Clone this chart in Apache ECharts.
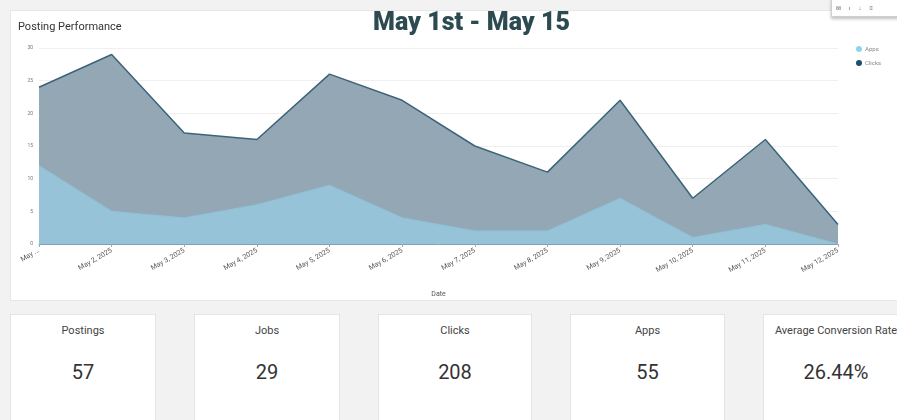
<!DOCTYPE html>
<html>
<head>
<meta charset="utf-8">
<script src="https://cdn.jsdelivr.net/npm/echarts@6/dist/echarts.min.js"></script>
<style>
  html, body { margin: 0; padding: 0; }
  body { width: 897px; height: 420px; background: #f2f2f2; overflow: hidden; position: relative; font-family: Roboto, "Noto Sans", sans-serif; }
  .panel { position: absolute; left: 10px; top: 10px; width: 895px; height: 291px; background: #fff; border: 1px solid #e6e6e6; box-sizing: border-box; }
  #chart { position: absolute; left: 0; top: 0; width: 897px; height: 310px; }
  .tools { position: absolute; left: 831px; top: -2px; width: 80px; height: 19px; background: #fff; border: 1px solid #cfcfcf; box-shadow: 0 2px 3px rgba(0,0,0,0.25); font-size: 6px; color: #666; letter-spacing: 8px; padding-left: 4px; line-height: 17px; box-sizing: border-box; }
  .kpi { position: absolute; top: 314px; height: 130px; background: #fff; border: 1px solid #e4e4e4; box-sizing: border-box; text-align: center; color: #333; }
  .kpi .t { margin-top: 9px; font-size: 11px; color: #444; white-space: nowrap; }
  .kpi .v { margin-top: 23px; font-size: 20px; color: #333; }
</style>
</head>
<body>
<div class="panel"></div>
<div id="chart"></div>
<div class="tools">⊠ı↓≡</div>
<div id="kpis"></div>
<script>
// chart data
const dates = ['May 1, 2025', 'May 2, 2025', 'May 3, 2025', 'May 4, 2025', 'May 5, 2025', 'May 6, 2025',
  'May 7, 2025', 'May 8, 2025', 'May 9, 2025', 'May 10, 2025', 'May 11, 2025', 'May 12, 2025'];
const clicks = [24, 29, 17, 16, 26, 22, 15, 11, 22, 7, 16, 3];
const apps = [12, 5, 4, 6, 9, 4, 2, 2, 7, 1, 3, 0];

// summary tiles
const kpiNames = ['Postings', 'Jobs', 'Clicks', 'Apps', 'Average Conversion Rate'];
const kpiValues = ['57', '29', '208', '55', '26.44%'];
const kpiLeft = [10, 194, 378, 570, 763];
const kpiWidth = [146, 146, 154, 155, 146];

const kpiBox = document.getElementById('kpis');
kpiNames.forEach((name, i) => {
  const d = document.createElement('div');
  d.className = 'kpi';
  d.style.left = kpiLeft[i] + 'px';
  d.style.width = kpiWidth[i] + 'px';
  d.innerHTML = '<div class="t">' + name + '</div><div class="v">' + kpiValues[i] + '</div>';
  kpiBox.appendChild(d);
});

const chart = echarts.init(document.getElementById('chart'));

const option = {
  animation: false,
  textStyle: { fontFamily: 'Roboto' },
  title: [
    {
      text: 'Posting Performance',
      left: 13, top: 17,
      textStyle: { fontSize: 11, fontWeight: 'normal', color: '#333' }
    },
    {
      text: 'May 1st - May 15',
      left: 368, top: 6,
      textStyle: { fontSize: 25, fontWeight: 900, color: '#2d4a51', fontFamily: 'Roboto' }
    }
  ],
  legend: {
    data: ['Apps', 'Clicks'],
    orient: 'vertical',
    left: 851, top: 41,
    icon: 'circle',
    itemWidth: 6, itemHeight: 6, itemGap: 8,
    textStyle: { fontSize: 6, color: '#888', padding: [0, 0, 0, -2] }
  },
  grid: { left: 39, right: 59, top: 48, bottom: 66 },
  xAxis: {
    type: 'category',
    data: dates,
    boundaryGap: false,
    name: 'Date',
    nameLocation: 'middle',
    nameGap: 47,
    nameTextStyle: { fontSize: 7, color: '#555' },
    axisLine: { lineStyle: { color: '#7fa3b4', width: 1 } },
    axisTick: { show: true, length: 3, lineStyle: { color: '#9ab' } },
    axisLabel: {
      rotate: 30, fontSize: 7, color: '#555', margin: 6,
      formatter: (v, i) => i === 0 ? 'May ...' : v
    }
  },
  yAxis: {
    type: 'value',
    min: 0, max: 30, interval: 5,
    axisLine: { show: false },
    axisTick: { show: false },
    axisLabel: { fontSize: 5, color: '#777', margin: 6 },
    splitLine: { lineStyle: { color: '#efefef' } }
  },
  series: [
    {
      name: 'Clicks',
      type: 'line',
      data: clicks,
      symbol: 'none',
      z: 2,
      color: '#1f4d6b',
      lineStyle: { color: '#3c6479', width: 1.5 },
      areaStyle: { color: '#94a7b4', opacity: 1 }
    },
    {
      name: 'Apps',
      type: 'line',
      data: apps,
      symbol: 'none',
      z: 3,
      color: '#8fd4ec',
      lineStyle: { color: '#8fc1d6', width: 1 },
      areaStyle: { color: '#96c3d7', opacity: 1 }
    }
  ]
};

chart.setOption(option);
window.addEventListener('resize', () => chart.resize());
</script>
</body>
</html>
